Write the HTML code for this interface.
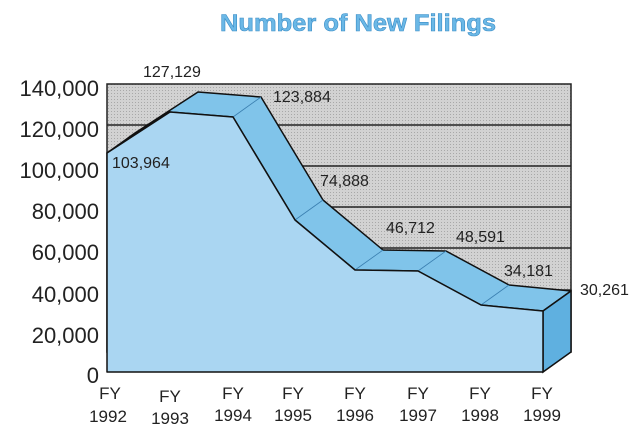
<!DOCTYPE html>
<html><head><style>
body{margin:0;background:#fff;}
svg{display:block;font-family:"Liberation Sans",sans-serif;}
</style></head><body>
<svg width="641" height="433" viewBox="0 0 641 433">
<defs>
<pattern id="h" width="3" height="3" patternUnits="userSpaceOnUse">
<rect width="3" height="3" fill="#d2d2d2"/><rect width="1" height="1" fill="#a8a8a8"/>
</pattern>
</defs>
<text x="358" y="31" text-anchor="middle" font-size="24" font-weight="bold" fill="#6bb8e6" stroke="#3d8fc8" stroke-width="0.6" textLength="276" lengthAdjust="spacingAndGlyphs">Number of New Filings</text>
<rect x="107" y="84" width="464" height="268" fill="url(#h)" stroke="#222" stroke-width="1.5"/>
<g stroke="#222" stroke-width="1.5">
<line x1="107" y1="125" x2="571" y2="125"/><line x1="107" y1="166" x2="571" y2="166"/>
<line x1="107" y1="207" x2="571" y2="207"/><line x1="107" y1="248" x2="571" y2="248"/>
<line x1="107" y1="290" x2="571" y2="290"/>
</g>
<polygon points="107,153 170,112 233,117 295,220 355,270 418,271 481,305 543,311 571,291 509,285 446,251 383,250 323,200 261,97 198,92 135,133" fill="#80c4ea" stroke="#111" stroke-width="1.5" stroke-linejoin="round"/>
<g stroke="#3a7fb0" stroke-width="0.8">
<line x1="233" y1="117" x2="261" y2="97"/><line x1="295" y1="220" x2="323" y2="200"/>
<line x1="355" y1="270" x2="383" y2="250"/><line x1="418" y1="271" x2="446" y2="251"/>
<line x1="481" y1="305" x2="509" y2="285"/>
</g>
<polygon points="543,311 571,291 571,352 543,372" fill="#5fb0e0" stroke="#111" stroke-width="1.5"/>
<polygon points="107,153 170,112 233,117 295,220 355,270 418,271 481,305 543,311 543,372 107,372" fill="#aad6f2" stroke="#111" stroke-width="1.5" stroke-linejoin="round"/>
<g font-size="16" fill="#222">
<text x="112" y="168">103,964</text>
<text x="143" y="77">127,129</text>
<text x="273" y="102">123,884</text>
<text x="320" y="186">74,888</text>
<text x="386" y="233">46,712</text>
<text x="456" y="242">48,591</text>
<text x="504" y="276">34,181</text>
<text x="580" y="295">30,261</text>
</g>
<g font-size="22" fill="#222" text-anchor="end">
<text x="99" y="96">140,000</text><text x="99" y="137">120,000</text>
<text x="99" y="178">100,000</text><text x="99" y="219">80,000</text>
<text x="99" y="260">60,000</text><text x="99" y="302">40,000</text>
<text x="99" y="343">20,000</text><text x="99" y="383">0</text>
</g>
<g font-size="17" fill="#222" text-anchor="middle">
<text x="110" y="399">FY</text><text x="108" y="422">1992</text>
<text x="170" y="402">FY</text><text x="170" y="424">1993</text>
<text x="233" y="399">FY</text><text x="233" y="421">1994</text>
<text x="293" y="399">FY</text><text x="293" y="421">1995</text>
<text x="355" y="399">FY</text><text x="355" y="421">1996</text>
<text x="418" y="399">FY</text><text x="418" y="421">1997</text>
<text x="480" y="399">FY</text><text x="480" y="421">1998</text>
<text x="542" y="399">FY</text><text x="542" y="421">1999</text>
</g>
</svg>
</body></html>
